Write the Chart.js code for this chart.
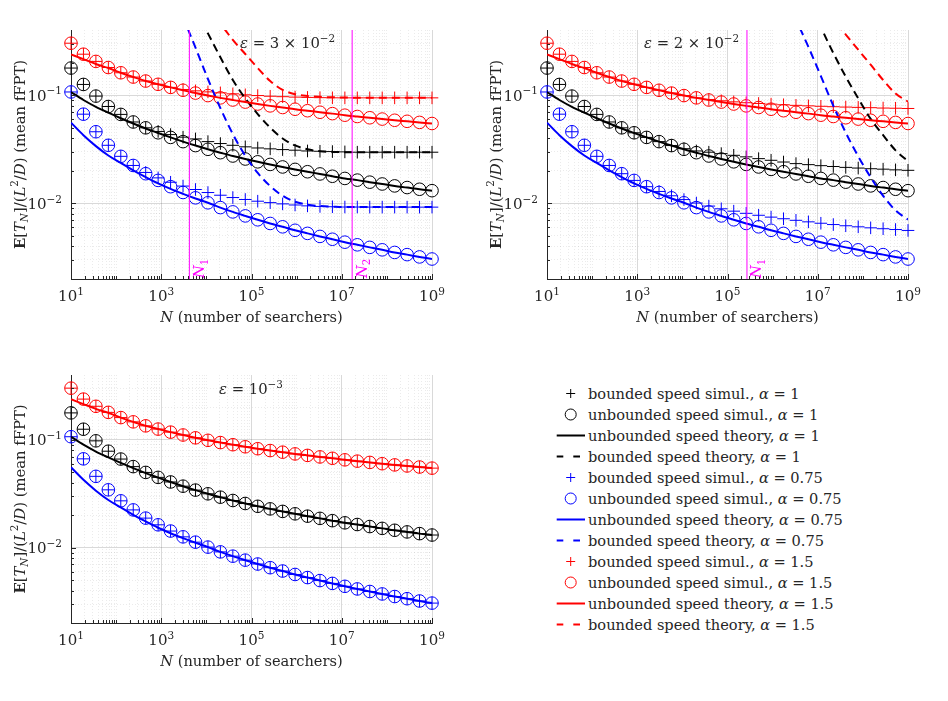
<!DOCTYPE html>
<html>
<head>
<meta charset="utf-8">
<script src="https://cdn.jsdelivr.net/npm/chart.js@4.4.0/dist/chart.umd.min.js"></script>
<style>
  body { margin: 0; background: #fff; width: 948px; height: 701px; position: relative; overflow: hidden;
         font-family: "DejaVu Serif", serif; color: #262626; }
  canvas { position: absolute; }
  #legend { position: absolute; left: 555px; top: 383px; font-size: 14.6px; }
  #legend .row { display: flex; align-items: center; height: 21px; white-space: nowrap; }
  #legend svg { width: 33px; height: 21px; flex: none; }
</style>
</head>
<body>
<canvas id="c1" width="470" height="345" style="left:0;top:0"></canvas>
<canvas id="c2" width="478" height="345" style="left:470px;top:0"></canvas>
<canvas id="c3" width="470" height="356" style="left:0;top:345px"></canvas>
<div id="legend"></div>

<script>
/* ---------- data ---------- */
// number of searchers, 30 log-spaced samples from 10 to 1e9
const N = [10, 18.87, 35.62, 67.23, 126.9, 239.5, 452.0, 853.2, 1610, 3039,
  5736, 10830, 20430, 38570, 72790, 137400, 259300, 489400, 923700, 1.744e6,
  3.291e6, 6.211e6, 1.172e7, 2.212e7, 4.176e7, 7.882e7, 1.488e8, 2.808e8, 5.299e8, 1e9];

// unbounded speed simulations (same in every panel)
const free1 = [0.178, 0.1256, 0.098, 0.0785, 0.0664, 0.0565, 0.0499, 0.0449, 0.0407, 0.0372,
  0.0342, 0.0316, 0.0294, 0.0274, 0.0257, 0.0242, 0.0229, 0.0217, 0.0206, 0.0196,
  0.0187, 0.0178, 0.0170, 0.0164, 0.0157, 0.0151, 0.0145, 0.0140, 0.0135, 0.0131];
const free075 = [0.107, 0.0667, 0.0459, 0.0344, 0.0272, 0.0224, 0.0188, 0.0163, 0.01426, 0.0126,
  0.01125, 0.01012, 0.00914, 0.00834, 0.00766, 0.00705, 0.00652, 0.00607, 0.00564, 0.00528,
  0.00495, 0.00466, 0.00438, 0.00414, 0.00392, 0.00372, 0.00352, 0.00336, 0.0032, 0.00306];
const free15 = [0.302, 0.239, 0.205, 0.180, 0.161, 0.147, 0.135, 0.126, 0.118, 0.111,
  0.1045, 0.0991, 0.0944, 0.0902, 0.0863, 0.0828, 0.0796, 0.0769, 0.0741, 0.0718,
  0.0695, 0.0675, 0.0653, 0.0635, 0.0618, 0.0601, 0.0586, 0.0573, 0.0560, 0.0547];

// unbounded speed theory
const theo1 = [0.107, 0.0902, 0.078, 0.0689, 0.0612, 0.0547, 0.0492, 0.0447, 0.0407, 0.0372,
  0.0342, 0.0316, 0.0294, 0.0274, 0.0257, 0.0242, 0.0229, 0.0217, 0.0206, 0.0196,
  0.0187, 0.0178, 0.0170, 0.0164, 0.0157, 0.0151, 0.0145, 0.0140, 0.0135, 0.0131];
const theo075 = [0.0557, 0.0426, 0.0338, 0.0277, 0.0236, 0.0202, 0.0175, 0.0153, 0.0136, 0.01225,
  0.0111, 0.01012, 0.00914, 0.00834, 0.00766, 0.00705, 0.00652, 0.00607, 0.00564, 0.00528,
  0.00495, 0.00466, 0.00438, 0.00414, 0.00392, 0.00372, 0.00352, 0.00336, 0.0032, 0.00306];
const theo15 = [0.238, 0.215, 0.194, 0.178, 0.161, 0.147, 0.135, 0.126, 0.118, 0.111,
  0.1045, 0.0991, 0.0944, 0.0902, 0.0863, 0.0828, 0.0796, 0.0769, 0.0741, 0.0718,
  0.0695, 0.0675, 0.0653, 0.0635, 0.0618, 0.0601, 0.0586, 0.0573, 0.0560, 0.0547];

// bounded speed simulations, eps = 3e-2
const bnd1_a = [0.178, 0.1256, 0.098, 0.0785, 0.0664, 0.0565, 0.0499, 0.0462, 0.0432, 0.0409,
  0.0394, 0.0372, 0.0357, 0.0344, 0.0333, 0.0325, 0.0319, 0.0314, 0.0310, 0.0305,
  0.0303, 0.0301, 0.0299, 0.0297, 0.0297, 0.0297, 0.0297, 0.0297, 0.0297, 0.0297];
const bnd075_a = [0.107, 0.0667, 0.0459, 0.0344, 0.0272, 0.0224, 0.0193, 0.0172, 0.01567, 0.01445,
  0.01343, 0.01259, 0.01189, 0.01132, 0.01086, 0.01047, 0.01016, 0.00989, 0.00966, 0.00948,
  0.00937, 0.00931, 0.00925, 0.00925, 0.00924, 0.00924, 0.00923, 0.00923, 0.00923, 0.00923];
const bnd15_a = [0.302, 0.239, 0.205, 0.180, 0.161, 0.147, 0.135, 0.126, 0.118, 0.1127,
  0.1096, 0.1072, 0.105, 0.1028, 0.1007, 0.0991, 0.0977, 0.0968, 0.0959, 0.0953,
  0.0948, 0.0945, 0.0944, 0.0944, 0.0944, 0.0944, 0.0944, 0.0944, 0.0944, 0.0944];
// bounded speed theory, eps = 3e-2
const dash1_a = [null, null, null, null, null, null, null, null, null, null,
  0.617, 0.372, 0.224, 0.138, 0.0933, 0.0668, 0.0501, 0.0398, 0.0343, 0.0316,
  0.0303, 0.0299, 0.0297, 0.0297, 0.0297, 0.0297, 0.0297, 0.0297, 0.0297, 0.0297];
const dash075_a = [null, null, null, null, null, null, null, null, null, 0.525,
  0.275, 0.141, 0.0759, 0.0437, 0.0275, 0.0191, 0.01445, 0.01175, 0.01035, 0.00973,
  0.00944, 0.00933, 0.00925, 0.00925, 0.00925, 0.00925, 0.00925, 0.00925, 0.00925, 0.00925];
const dash15_a = [null, null, null, null, null, null, null, null, null, null,
  null, 0.631, 0.457, 0.324, 0.240, 0.178, 0.135, 0.112, 0.102, 0.0982,
  0.0964, 0.0955, 0.0951, 0.0947, 0.0945, 0.0944, 0.0944, 0.0944, 0.0944, 0.0944];

// bounded speed simulations, eps = 2e-2
const bnd1_b = [0.178, 0.1256, 0.098, 0.0785, 0.0664, 0.0565, 0.0499, 0.0449, 0.0407, 0.0372,
  0.0342, 0.032, 0.0305, 0.0297, 0.0288, 0.0278, 0.0269, 0.0259, 0.025, 0.0241,
  0.0233, 0.0228, 0.0223, 0.0219, 0.0215, 0.0212, 0.0209, 0.0207, 0.0204, 0.0202];
const bnd075_b = [0.107, 0.0667, 0.0459, 0.0344, 0.0272, 0.0224, 0.0188, 0.0163, 0.01426, 0.01288,
  0.01175, 0.01084, 0.01007, 0.00944, 0.00891, 0.00847, 0.00809, 0.00776, 0.00746, 0.00721,
  0.00697, 0.00675, 0.00655, 0.00637, 0.00621, 0.00607, 0.00594, 0.00583, 0.00573, 0.00562];
const bnd15_b = [0.302, 0.239, 0.205, 0.180, 0.161, 0.147, 0.135, 0.126, 0.118, 0.111,
  0.1045, 0.0991, 0.0944, 0.0912, 0.0887, 0.0867, 0.0851, 0.0838, 0.0826, 0.0815,
  0.0805, 0.0796, 0.0789, 0.0782, 0.0776, 0.0771, 0.0766, 0.076, 0.0757, 0.0753];
// bounded speed theory, eps = 2e-2
const dash1_b = [null, null, null, null, null, null, null, null, null, null,
  null, null, null, null, null, null, null, null, null, null,
  null, 0.794, 0.427, 0.245, 0.148, 0.0933, 0.0603, 0.0427, 0.0309, 0.0245];
const dash075_b = [null, null, null, null, null, null, null, null, null, null,
  null, null, null, null, null, null, null, null, null, 0.89,
  0.50, 0.279, 0.15, 0.0798, 0.045, 0.0272, 0.0174, 0.01175, 0.0086, 0.00708];
const dash15_b = [null, null, null, null, null, null, null, null, null, null,
  null, null, null, null, null, null, null, null, null, null,
  null, null, 0.708, 0.501, 0.363, 0.263, 0.191, 0.138, 0.1035, 0.087];

// critical numbers of searchers (vertical markers)
const critA = [4200, 1.7e7];
const critB = [2.7e5];

// axes
const xRange = [10, 1e9];
const yRange = [0.002, 0.4];
const xLabelExp = [1, 3, 5, 7, 9];
const yLabelExp = [-1, -2];

const RED = '#ff0000', BLUE = '#0000ff', BLACK = '#000000', MAG = '#ff00ff', INK = '#262626';
const FONT = '"DejaVu Serif", serif';

/* ---------- helpers ---------- */
function pts(arr) { return N.map((x, i) => ({ x, y: arr[i] })); }

function marks(arr, color, style) {
  return { data: pts(arr), showLine: false, clip: false, pointStyle: style, pointRadius: 6.3,
    pointBorderWidth: 1, pointBorderColor: color, pointBackgroundColor: 'rgba(0,0,0,0)' };
}
function curve(arr, color, dashed) {
  return { data: pts(arr), pointRadius: 0, borderColor: color, borderWidth: 2,
    borderDash: dashed ? [8, 5] : [], cubicInterpolationMode: 'monotone', spanGaps: false };
}
function vline(n) {
  return { data: [{ x: n, y: yRange[0] }, { x: n, y: yRange[1] }], pointRadius: 0,
    borderColor: MAG, borderWidth: 1 };
}

const isDecade = v => Math.abs(Math.log10(v) - Math.round(Math.log10(v))) < 1e-6;
const isMajorX = v => isDecade(v) && Math.round(Math.log10(v)) % 2 !== 0;

const xTickVals = [];
for (let k = 1; k <= 8; k++) for (let m = 1; m <= 9; m++) xTickVals.push(m * Math.pow(10, k));
xTickVals.push(1e9);
const yTickVals = [];
for (let k = -3; k <= -1; k++) for (let m = 1; m <= 9; m++) {
  const v = m * Math.pow(10, k);
  if (v >= 0.002 - 1e-9 && v < 0.399) yTickVals.push(v);
}

// draw a run of text pieces: {t, i (italic), b (bold), sup, sub}
function rich(ctx, parts, x, y, align, size) {
  const fonts = parts.map(p => {
    const s = (p.sup || p.sub) ? size * 0.7 : size;
    return (p.i ? 'italic ' : '') + (p.b ? 'bold ' : '') + s + 'px ' + FONT;
  });
  const w = parts.map((p, k) => { ctx.font = fonts[k]; return ctx.measureText(p.t).width; });
  const total = w.reduce((a, b) => a + b, 0);
  let cx = align === 'center' ? x - total / 2 : align === 'right' ? x - total : x;
  ctx.textAlign = 'left';
  ctx.textBaseline = 'alphabetic';
  parts.forEach((p, k) => {
    ctx.font = fonts[k];
    const dy = p.sup ? -size * 0.42 : p.sub ? size * 0.25 : 0;
    ctx.fillText(p.t, cx, y + dy);
    cx += w[k];
  });
}

const pow10 = e => [{ t: '10' }, { t: String(e).replace('-', '\u2212'), sup: 1 }];

/* ---------- axes decoration plugin ---------- */
const decor = {
  id: 'decor',
  afterDraw(chart, args, opts) {
    const { ctx, chartArea: a, scales: { x, y } } = chart;
    ctx.save();
    // inward tick marks
    ctx.strokeStyle = INK;
    ctx.lineWidth = 1;
    ctx.beginPath();
    x.ticks.forEach(t => {
      const px = Math.round(x.getPixelForValue(t.value)) + 0.5;
      const len = isMajorX(t.value) ? 5 : 3;
      ctx.moveTo(px, a.bottom); ctx.lineTo(px, a.bottom - len);
    });
    y.ticks.forEach(t => {
      const py = Math.round(y.getPixelForValue(t.value)) + 0.5;
      const len = isDecade(t.value) ? 5 : 3;
      ctx.moveTo(a.left, py); ctx.lineTo(a.left + len, py);
    });
    ctx.stroke();

    // tick labels
    ctx.fillStyle = INK;
    xLabelExp.forEach(e => rich(ctx, pow10(e), x.getPixelForValue(Math.pow(10, e)), a.bottom + 22, 'center', 15));
    yLabelExp.forEach(e => rich(ctx, pow10(e), a.left - 9, y.getPixelForValue(Math.pow(10, e)) + 5.5, 'right', 15));

    // axis titles
    rich(ctx, [{ t: 'N', i: 1 }, { t: ' (number of searchers)' }], (a.left + a.right) / 2, a.bottom + 43, 'center', 14.6);
    ctx.save();
    ctx.translate(a.left - 46.5, (a.top + a.bottom) / 2);
    ctx.rotate(-Math.PI / 2);
    rich(ctx, [{ t: 'E', b: 1 }, { t: '[' }, { t: 'T', i: 1 }, { t: 'N', i: 1, sub: 1 }, { t: ']/(' },
      { t: 'L', i: 1 }, { t: '2', sup: 1 }, { t: '/' }, { t: 'D', i: 1 }, { t: ') (mean fFPT)' }],
      0, 0, 'center', 14.8);
    ctx.restore();

    // epsilon annotation
    rich(ctx, opts.eps, a.left + opts.epsDx, a.top + opts.epsDy, 'left', 14.8);

    // N_k labels next to the vertical markers
    ctx.fillStyle = MAG;
    (opts.crit || []).forEach((n, k) => {
      ctx.save();
      ctx.translate(x.getPixelForValue(n) + 14.5, a.bottom - 1);
      ctx.rotate(-Math.PI / 2);
      rich(ctx, [{ t: 'N', i: 1 }, { t: String(k + 1), sub: 1 }], 0, 0, 'left', 14.6);
      ctx.restore();
    });
    ctx.restore();
  }
};

function scalesCfg() {
  const gridColor = c => c.tick && isMajorX(c.tick.value) ? 'rgba(0,0,0,0.15)' : 'rgba(0,0,0,0.08)';
  const gridDash = c => c.tick && !isMajorX(c.tick.value) ? [1, 2] : [];
  const ygridColor = c => c.tick && isDecade(c.tick.value) ? 'rgba(0,0,0,0.15)' : 'rgba(0,0,0,0.08)';
  const ygridDash = c => c.tick && !isDecade(c.tick.value) ? [1, 2] : [];
  return {
    x: { type: 'logarithmic', min: xRange[0], max: xRange[1],
      ticks: { display: false },
      grid: { drawTicks: false, color: gridColor, lineWidth: 1 },
      border: { display: true, color: INK, width: 1, dash: gridDash },
      afterBuildTicks: s => { s.ticks = xTickVals.map(v => ({ value: v })); } },
    y: { type: 'logarithmic', min: yRange[0], max: yRange[1],
      ticks: { display: false },
      grid: { drawTicks: false, color: ygridColor, lineWidth: 1 },
      border: { display: true, color: INK, width: 1, dash: ygridDash },
      afterBuildTicks: s => { s.ticks = yTickVals.map(v => ({ value: v })); } }
  };
}

function makeChart(id, datasets, decorOpts, padding) {
  return new Chart(document.getElementById(id), {
    type: 'line',
    data: { datasets },
    options: {
      responsive: false, animation: false, devicePixelRatio: 1, events: [],
      layout: { padding },
      scales: scalesCfg(),
      plugins: { legend: { display: false }, tooltip: { enabled: false }, decor: decorOpts }
    },
    plugins: [decor]
  });
}

function panelSets(b1, b075, b15, d1, d075, d15, crit) {
  const sets = [];
  crit.forEach(n => sets.push(vline(n)));
  sets.push(curve(theo1, BLACK), curve(theo075, BLUE), curve(theo15, RED));
  if (d1) sets.push(curve(d1, BLACK, true), curve(d075, BLUE, true), curve(d15, RED, true));
  sets.push(marks(b1, BLACK, 'cross'), marks(free1, BLACK, 'circle'),
    marks(b075, BLUE, 'cross'), marks(free075, BLUE, 'circle'),
    marks(b15, RED, 'cross'), marks(free15, RED, 'circle'));
  return sets;
}

/* ---------- panels ---------- */
makeChart('c1', panelSets(bnd1_a, bnd075_a, bnd15_a, dash1_a, dash075_a, dash15_a, critA),
  { eps: [{ t: '\u03b5', i: 1 }, { t: ' = 3 \u00d7 10' }, { t: '\u22122', sup: 1 }], epsDx: 169, epsDy: 18, crit: critA },
  { left: 71, top: 30, right: 38, bottom: 66 });

makeChart('c2', panelSets(bnd1_b, bnd075_b, bnd15_b, dash1_b, dash075_b, dash15_b, critB),
  { eps: [{ t: '\u03b5', i: 1 }, { t: ' = 2 \u00d7 10' }, { t: '\u22122', sup: 1 }], epsDx: 97, epsDy: 18, crit: critB },
  { left: 77, top: 30, right: 40, bottom: 66 });

// eps = 1e-3: bounded simulations coincide with unbounded ones
makeChart('c3', panelSets(free1, free075, free15, null, null, null, []),
  { eps: [{ t: '\u03b5', i: 1 }, { t: ' = 10' }, { t: '\u22123', sup: 1 }], epsDx: 148, epsDy: 19, crit: [] },
  { left: 71, top: 30, right: 38, bottom: 78 });

/* ---------- legend ---------- */
const legendAlpha = ['1', '0.75', '1.5'];
const legendColor = [BLACK, BLUE, RED];
const legendKinds = [['cross', 'bounded speed simul.'], ['circle', 'unbounded speed simul.'],
  ['solid', 'unbounded speed theory'], ['dash', 'bounded speed theory']];

function icon(kind, c) {
  if (kind === 'cross') return `<line x1="11.2" y1="10.5" x2="20.2" y2="10.5" stroke="${c}"/><line x1="15.7" y1="6" x2="15.7" y2="15" stroke="${c}"/>`;
  if (kind === 'circle') return `<circle cx="15.7" cy="10.5" r="5.5" fill="none" stroke="${c}"/>`;
  if (kind === 'solid') return `<line x1="1.7" y1="10.5" x2="30" y2="10.5" stroke="${c}" stroke-width="2"/>`;
  return `<line x1="1.7" y1="10.5" x2="8.3" y2="10.5" stroke="${c}" stroke-width="2"/><line x1="18.3" y1="10.5" x2="25" y2="10.5" stroke="${c}" stroke-width="2"/>`;
}

const legend = document.getElementById('legend');
legendAlpha.forEach((al, g) => {
  legendKinds.forEach(([kind, label]) => {
    const row = document.createElement('div');
    row.className = 'row';
    row.innerHTML = `<svg viewBox="0 0 33 21">${icon(kind, legendColor[g])}</svg><span>${label}, <i>\u03b1</i> = ${al}</span>`;
    legend.appendChild(row);
  });
});
</script>
</body>
</html>
